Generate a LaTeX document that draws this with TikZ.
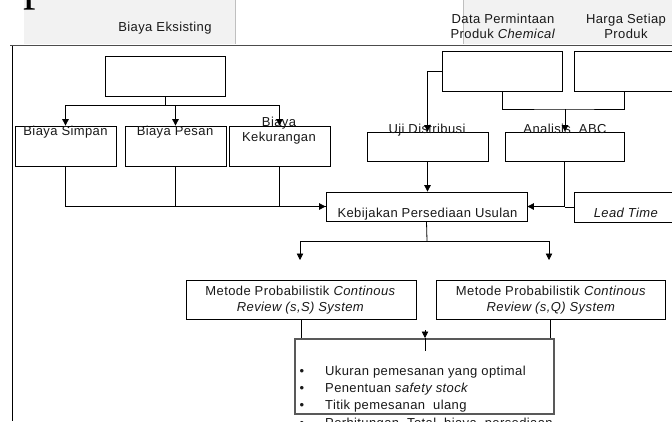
\documentclass[tikz,border=0pt]{standalone}
\usepackage{fontspec}
\setmainfont[LetterSpace=3]{Liberation Sans}
\newfontfamily\serifp{Liberation Serif}
\usetikzlibrary{arrows.meta,shadows}
\newcommand\stA{\rule[-3pt]{0pt}{12pt}}
\newcommand\stB{\rule[-4pt]{0pt}{12pt}}
\begin{document}
\begin{tikzpicture}[x=1pt,y=-1pt,
  box/.style={draw=black,line width=0.8pt,inner sep=0pt,fill=none},
  txt/.style={font=\fontsize{13}{15}\selectfont,inner sep=0pt,align=center,text=black!90},
  txtb/.style={font=\fontsize{13}{16}\selectfont,inner sep=0pt,align=center,text=black!90},
  conn/.style={draw=black,line width=0.8pt},
  arr/.style={conn,-{Triangle[length=6.5pt,width=6.5pt]}},
  bulbox/.style={draw=black!65,line width=1.1pt,inner sep=0pt,fill=white,
    drop shadow={shadow xshift=1.3pt,shadow yshift=-1.3pt,fill=black!55,opacity=1}}
]
\useasboundingbox (0,0) rectangle (672,421);
\clip (0,0) rectangle (672,421);
\fill[white] (0,0) rectangle (672,421);
% header strips
\fill[black!5] (24,0) rectangle (235,44);
\draw[black!25,line width=0.8pt] (235,0) -- (235,44);
\fill[black!5] (463,0) rectangle (672,44);
\draw[black!25,line width=0.8pt] (463,0) -- (463,44);
\node[font=\serifp\fontsize{50}{50}\selectfont,anchor=base,inner sep=0pt] (pglyph) at (36,-0.5) {p};
\node[txt,anchor=base] (eks) at (165,31) {Biaya Eksisting};
\node[txt] (dataT) at (503,28) {\stA Data Permintaan\\\stA Produk \textit{Chemical}};
\node[txt] (hargaT) at (626,28) {\stA Harga Setiap\\\stA Produk};
\draw[black!70,line width=0.9pt] (10,45.5) -- (672,45.5);
\draw[black,line width=0.9pt] (12,46) -- (12,421);

% boxes
\node[box,minimum width=120pt,minimum height=40pt] (top) at (165,76) {};
\node[box,minimum width=101pt,minimum height=40pt] (simpan) at (65.5,146) {};
\node[box,minimum width=101pt,minimum height=40pt] (pesan) at (175.5,146) {};
\node[box,minimum width=101pt,minimum height=40pt] (kurang) at (279.5,146) {};
\node[box,minimum width=120pt,minimum height=40pt] (data) at (502,71) {};
\node[box,minimum width=120pt,minimum height=40pt] (harga) at (634,71) {};
\coordinate (hj) at (624,91);
\node[box,minimum width=121pt,minimum height=29pt] (uji) at (427.5,146.5) {};
\node[box,minimum width=119pt,minimum height=29pt] (abc) at (564.5,146.5) {};
\node[box,minimum width=201pt,minimum height=29pt] (keb) at (426.5,206.5) {};
\node[box,minimum width=120pt,minimum height=30pt] (lead) at (634,207) {};
\node[box,minimum width=230pt,minimum height=39pt] (ss) at (301,299.5) {};
\node[box,minimum width=229pt,minimum height=39pt] (sq) at (550.5,299.5) {};
\node[bulbox,minimum width=259pt,minimum height=75pt] (bul) at (424.5,376.5) {};

% box texts
\node[txt,anchor=base] (simpanT) at (65.5,135) {Biaya Simpan};
\node[txt,anchor=base] (pesanT) at (175,135) {Biaya Pesan};
\node[txt] (kurangT) at (279,131) {\stA Biaya\\\stA Kekurangan};
\node[txt,anchor=base] (ujiT) at (427,133.5) {Uji Distribusi};
\node[txt,anchor=base] (abcT) at (565,133.5) {Analisis\ \ ABC};
\node[txt,anchor=base] (kebT) at (427.5,217) {Kebijakan Persediaan Usulan};
\node[txt,anchor=base] (leadT) at (626,217) {\textit{Lead Time}};
\node[txtb] (ssT) at (300.5,301) {\stB Metode Probabilistik \textit{Continous}\\\stB\textit{Review (s,S) System}};
\node[txtb] (sqT) at (551,301) {\stB Metode Probabilistik \textit{Continous}\\\stB\textit{Review (s,Q) System}};

% bullets
\node[txt,anchor=base] (b1) at (302,375) {•};
\node[txt,anchor=base west] (l1) at (325,375) {Ukuran pemesanan yang optimal};
\node[txt,anchor=base] (b2) at (302,392.3) {•};
\node[txt,anchor=base west] (l2) at (325,392.3) {Penentuan \textit{safety stock}};
\node[txt,anchor=base] (b3) at (302,409.6) {•};
\node[txt,anchor=base west] (l3) at (325,409.6) {Titik pemesanan\ \ ulang};
\node[txt,anchor=base] (b4) at (302,427) {•};
\node[txt,anchor=base west] (l4) at (325,427) {Perhitungan\ \ Total\ \ biaya\ \ persediaan};

% connectors
\coordinate (j1) at (165,105);
\draw[conn] (top.south) -- (j1);
\draw[arr] (j1) -| (simpan.north);
\draw[arr] (j1) -| (pesan.north);
\draw[arr] (j1) -| (kurang.north);

\draw[arr] (simpan.south) |- (keb.west);
\draw[conn] (pesan.south) |- (keb.west);
\draw[conn] (kurang.south) |- (keb.west);

\draw[arr] (data.west) -| (uji.north);
\coordinate (j2) at (565,109);
\draw[conn] (data.south) |- (j2) -| (hj);
\draw[arr] (j2) -- (j2 |- abc.north);

\draw[arr] (uji.south) -- (uji.south |- keb.north);
\draw[arr] (abc.south) |- (keb.east);
\draw[conn] (lead.west) -- (abc.south |- lead.west);

\coordinate (j3) at (427,241);
\coordinate (e1) at (300,260);
\coordinate (e2) at (549,260);
\draw[conn] (keb.south) -- (j3);
\draw[arr] (j3) -| (e1);
\draw[arr] (j3) -| (e2);

\draw[conn] (ss.south) -- (ss.south |- bul.north);
\draw[conn] (sq.south) -- (sq.south |- bul.north);

\coordinate (m1) at (425,330);
\coordinate (m2) at (425,338);
\coordinate (m3) at (425,351);
\draw[arr] (m1) -- (m2);
\draw[conn] (m2) -- (m3);
\end{tikzpicture}
\end{document}
